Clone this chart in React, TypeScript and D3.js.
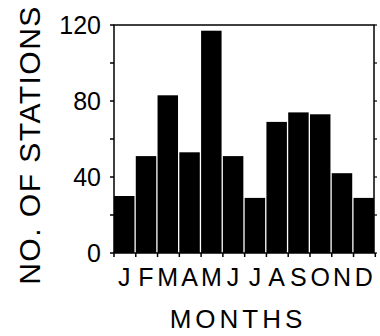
import React from 'react';
import * as d3 from 'd3';

const months = ['J', 'F', 'M', 'A', 'M', 'J', 'J', 'A', 'S', 'O', 'N', 'D'];
const stations = [30, 51, 83, 53, 117, 51, 29, 69, 74, 73, 42, 29];
const yTicks = [0, 40, 80, 120];
const yMinorTicks = [20, 60, 100];

const W = 380;
const H = 336;
const margin = { top: 25, right: 6, bottom: 84, left: 114 };
const font = '"Liberation Sans", Arial, sans-serif';

export default function App() {
  const innerW = W - margin.left - margin.right;
  const innerH = H - margin.top - margin.bottom + 1;

  // band per month, bars touch with a thin white gap
  const x = d3.scaleBand<number>()
    .domain(months.map((_, i) => i))
    .range([0, innerW])
    .paddingInner(0.06)
    .paddingOuter(0);

  const y = d3.scaleLinear().domain([0, 120]).range([innerH, 0]);
  const step = x.step();

  return (
    <div style={{ position: 'absolute', left: 0, top: 0 }}>
      <svg width={W} height={H} style={{ display: 'block', background: '#fff' }}>
        <g transform={`translate(${margin.left},${margin.top})`}>
          {/* bars */}
          {stations.map((v, i) => (
            <rect key={i} x={x(i)} y={y(v)} width={x.bandwidth()} height={innerH - y(v)} fill="#000" />
          ))}

          {/* frame */}
          <rect x={0} y={0} width={innerW} height={innerH} fill="none" stroke="#000" strokeWidth={1.5} />

          {/* y ticks left */}
          {yTicks.concat(yMinorTicks).map(t => (
            <line key={'l' + t} x1={-4} x2={0} y1={y(t)} y2={y(t)} stroke="#000" strokeWidth={1.5} />
          ))}
          {/* y ticks right */}
          {yTicks.concat(yMinorTicks).map(t => (
            <line key={'r' + t} x1={innerW} x2={innerW + 3} y1={y(t)} y2={y(t)} stroke="#000" strokeWidth={1.2} />
          ))}
          {yTicks.map(t => (
            <text key={'t' + t} x={-13} y={y(t)} dy="0.36em" textAnchor="end" fontFamily={font} fontSize={25}>
              {t}
            </text>
          ))}

          {/* x ticks at bar boundaries */}
          {d3.range(months.length + 1).map(i => (
            <line key={'x' + i} x1={i * step} x2={i * step} y1={innerH} y2={innerH + 4} stroke="#000" strokeWidth={1.5} />
          ))}
          {months.map((m, i) => (
            <text key={'m' + i} x={(x(i) ?? 0) + x.bandwidth() / 2} y={innerH + 33} textAnchor="middle" fontFamily={font} fontSize={25}>
              {m}
            </text>
          ))}
        </g>

        {/* axis titles */}
        <text x={238} y={328} textAnchor="middle" fontFamily={font} fontSize={26} letterSpacing={4}>
          MONTHS
        </text>
        <text transform="translate(40,145) rotate(-90)" textAnchor="middle" fontFamily={font} fontSize={30} letterSpacing={1.5}>
          NO. OF STATIONS
        </text>
      </svg>
    </div>
  );
}
